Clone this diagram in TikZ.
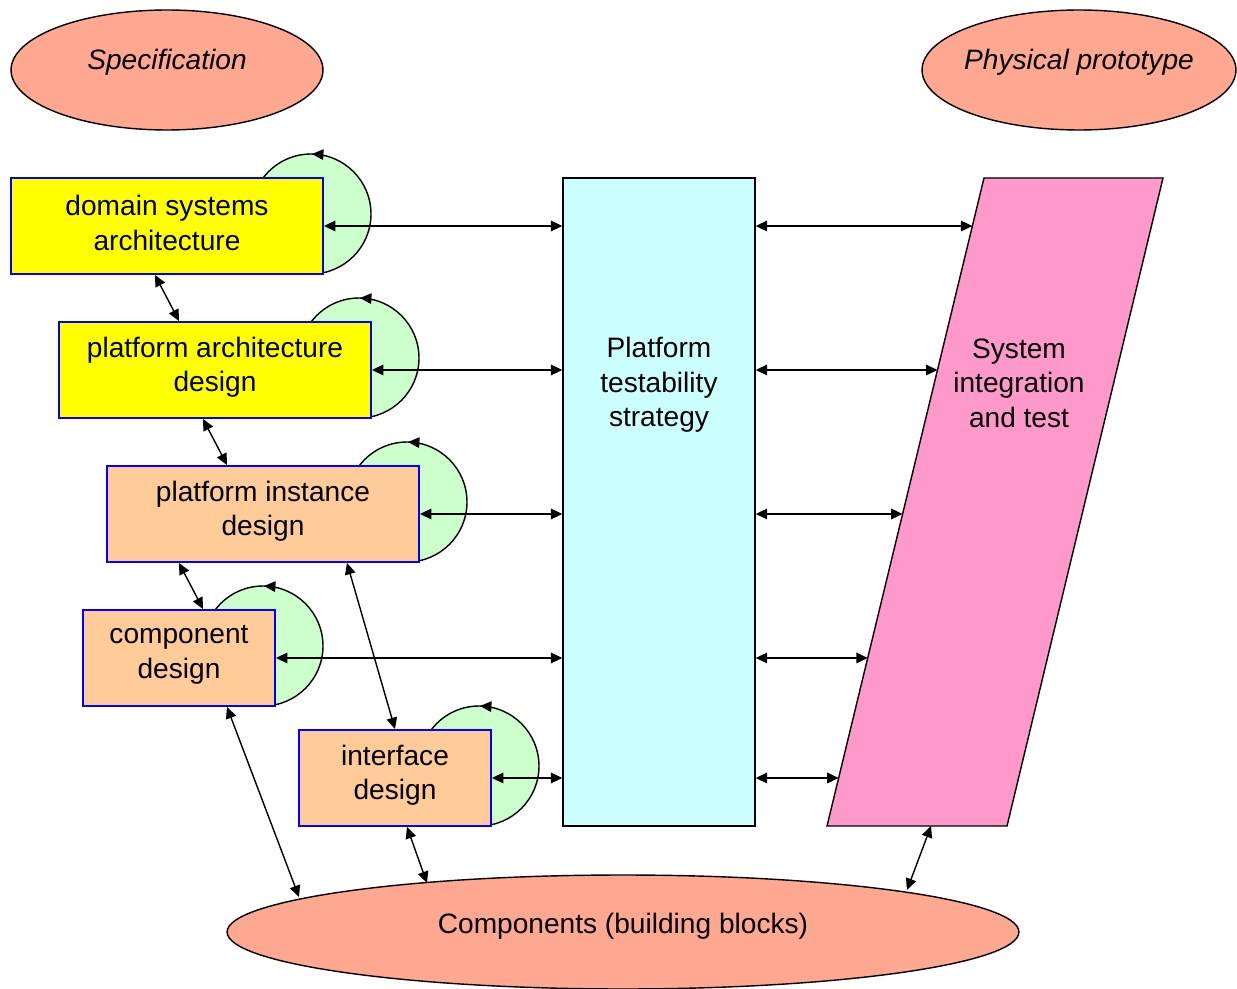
\documentclass[tikz,border=0pt]{standalone}
\usepackage{fontspec}
\setmainfont{Liberation Sans}
\usetikzlibrary{arrows.meta,shapes.geometric,calc}

\definecolor{salmon}{HTML}{FFA891}
\definecolor{loopgreen}{HTML}{CCFFCC}
\definecolor{peach}{HTML}{FFCC99}
\definecolor{paleblue}{HTML}{CCFFFF}
\definecolor{pinkish}{HTML}{FF99CC}
\definecolor{boxblue}{HTML}{0000FF}
\definecolor{brightyellow}{RGB}{255,255,0}

\begin{document}
\begin{tikzpicture}[x=0.02cm, y=-0.02cm,
  font=\fontsize{16}{19.6}\selectfont,
  link/.style={{Triangle[length=6.5pt,width=6pt]}-{Triangle[length=6.5pt,width=6pt]}, line width=0.8pt},
  goal/.style={ellipse, draw, line width=0.8pt, fill=salmon, inner sep=0pt},
  stage/.style={rectangle, draw=boxblue, line width=1.1pt, inner sep=0pt, minimum height=1.92cm},
  wide/.style={stage, minimum width=6.24cm},
  narrow/.style={stage, minimum width=3.84cm},
  caption/.style={align=center, inner sep=0pt},
  loop/.style={draw, line width=0.8pt, fill=loopgreen},
  looptip/.style={-{Triangle[length=6.5pt,width=6pt]}, line width=0.8pt}
]
\useasboundingbox (0,0) rectangle (1237,989);

% goals
\node[goal, minimum width=6.24cm, minimum height=2.4cm] (spec) at (167,70) {};
\node[caption] (spectext) at (167,62) {\itshape Specification};
\node[goal, minimum width=6.28cm, minimum height=2.4cm] (proto) at (1079,70) {};
\node[caption] (prototext) at (1079,62) {\itshape Physical prototype};
\node[goal, minimum width=15.84cm, minimum height=2.28cm] (comps) at (623,932) {};
\node[caption] (compstext) at (623,926) {Components (building blocks)};

% iteration circles behind the design stages, turning anticlockwise
\foreach \n/\x/\y in {c1/311/214, c2/359/358, c3/407/502, c4/263/646, c5/479/766} {
  \coordinate (\n) at (\x,\y);
  \path[loop] (\n) circle[radius=1.2cm];
  \draw[looptip] ($(\n)+(12,-59.4)$) -- ($(\n)+(1,-60)$);
}

% design stages
\node[wide, fill=brightyellow] (dsa) at (167,226) {};
\node[caption] (dsatext) at (167,223) {domain systems\\architecture};
\node[wide, fill=brightyellow] (pad) at (215,370) {};
\node[caption] (padtext) at (215,367) {platform architecture\\design};
\node[wide, fill=peach] (pid) at (263,514) {};
\node[caption] (pidtext) at (263,511) {platform instance\\design};
\node[narrow, fill=peach] (cd) at (179,658) {};
\node[caption] (cdtext) at (179,655) {component\\design};
\node[narrow, fill=peach] (ifd) at (395,778) {};
\node[caption] (ifdtext) at (395,775) {interface\\design};

% testability strategy
\node[rectangle, draw, line width=0.8pt, fill=paleblue, minimum width=3.84cm, minimum height=12.96cm, inner sep=0pt] (pts) at (659,502) {};
\node[caption] (ptstext) at (659,385) {Platform\\testability\\strategy};

% integration and test
\coordinate (pTL) at (984,178);
\coordinate (pTR) at (1163,178);
\coordinate (pBR) at (1007,826);
\coordinate (pBL) at (827,826);
\draw[line width=0.8pt, fill=pinkish] (pTL) -- (pTR) -- (pBR) -- (pBL) -- cycle;
\node[caption] (sit) at (1019,383) {System\\integration\\and test};
\coordinate (s1) at ($(pTL)!0.0741!(pBL)$);
\coordinate (s2) at ($(pTL)!0.2963!(pBL)$);
\coordinate (s3) at ($(pTL)!0.5185!(pBL)$);
\coordinate (s4) at ($(pTL)!0.7407!(pBL)$);
\coordinate (s5) at ($(pTL)!0.9259!(pBL)$);

% stages to strategy
\draw[link] (dsa.east |- 0,226) -- (pts.west |- 0,226);
\draw[link] (pad.east |- 0,370) -- (pts.west |- 0,370);
\draw[link] (pid.east |- 0,514) -- (pts.west |- 0,514);
\draw[link] (cd.east |- 0,658) -- (pts.west |- 0,658);
\draw[link] (ifd.east |- 0,778) -- (pts.west |- 0,778);

% strategy to integration
\draw[link] (pts.east |- s1) -- (s1);
\draw[link] (pts.east |- s2) -- (s2);
\draw[link] (pts.east |- s3) -- (s3);
\draw[link] (pts.east |- s4) -- (s4);
\draw[link] (pts.east |- s5) -- (s5);

% between stages
\draw[link] (dsa.south -| 155,0) -- (pad.north -| 179,0);
\draw[link] (pad.south -| 203,0) -- (pid.north -| 227,0);
\draw[link] (pid.south -| 179,0) -- (cd.north -| 203,0);
\draw[link] (pid.south -| 347,0) -- (ifd.north -| 395,0);

% down to components
\coordinate (k1) at (299,897);
\coordinate (k2) at (427,883);
\coordinate (k3) at (907,890);
\coordinate (pb) at (931,826);
\draw[link] (cd.south -| 227,0) -- (k1);
\draw[link] (ifd.south -| 407,0) -- (k2);
\draw[link] (pb) -- (k3);
\end{tikzpicture}
\end{document}
